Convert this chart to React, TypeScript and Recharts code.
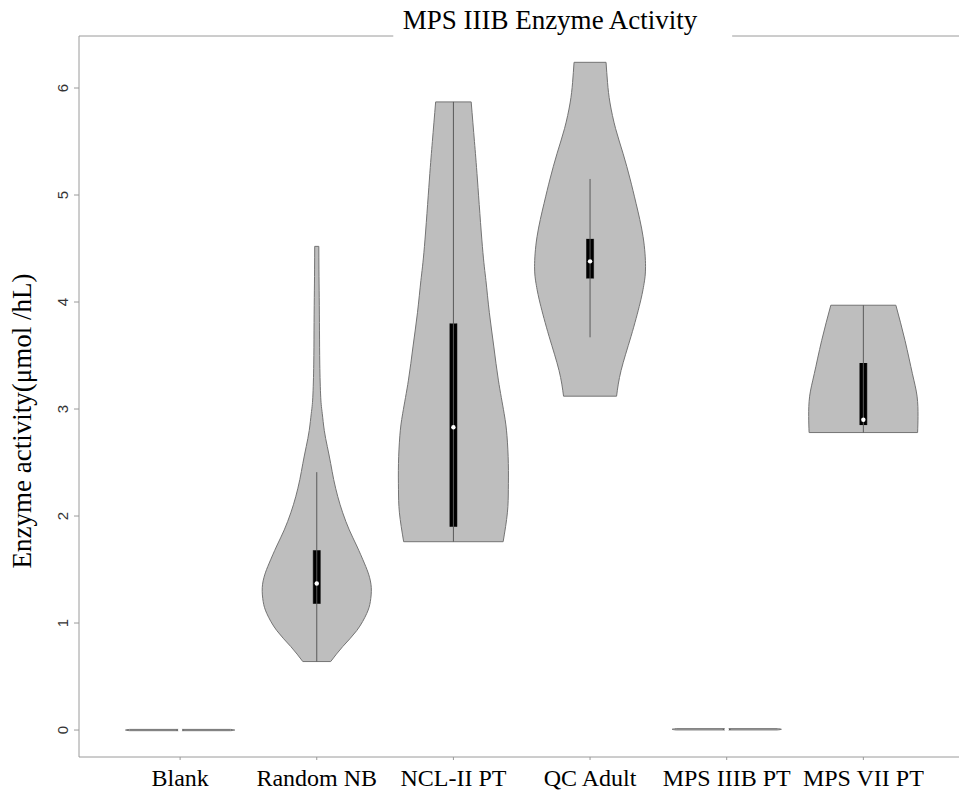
import React from 'react';
import { ComposedChart, Area, Line, XAxis, YAxis, ReferenceLine } from 'recharts';

const CATEGORIES = ['Blank', 'Random NB', 'NCL-II PT', 'QC Adult', 'MPS IIIB PT', 'MPS VII PT'];
const Y_TICKS = [0, 1, 2, 3, 4, 5, 6];

// violin outlines: [activity, half width in category units]
const blankDensity = [[-0.006, 0.37], [0, 0.4], [0.006, 0.37]];
const randomNbDensity = [
  [0.64, 0.102], [0.78, 0.19], [0.93, 0.293], [1.09, 0.366], [1.2, 0.392], [1.33, 0.399],
  [1.45, 0.381], [1.56, 0.348], [1.72, 0.293], [1.87, 0.238], [2.03, 0.19], [2.18, 0.154],
  [2.34, 0.124], [2.49, 0.102], [2.65, 0.077], [2.8, 0.055], [2.96, 0.04], [3.11, 0.029],
  [3.42, 0.022], [3.73, 0.02], [4.04, 0.018], [4.3, 0.016], [4.52, 0.015],
];
const nclDensity = [
  [1.76, 0.364], [2.03, 0.395], [2.25, 0.402], [2.49, 0.402], [2.75, 0.392], [2.96, 0.371],
  [3.27, 0.329], [3.58, 0.296], [3.9, 0.263], [4.2, 0.238], [4.52, 0.212], [5.14, 0.176],
  [5.5, 0.154], [5.87, 0.13],
];
const qcDensity = [
  [3.12, 0.194], [3.36, 0.227], [3.68, 0.3], [3.99, 0.366], [4.17, 0.395], [4.33, 0.406],
  [4.61, 0.388], [4.92, 0.337], [5.15, 0.293], [5.39, 0.241], [5.62, 0.187], [5.86, 0.146],
  [6.05, 0.128], [6.24, 0.117],
];
const mps3bDensity = [[0.001, 0.37], [0.007, 0.4], [0.013, 0.37]];
const mps7Density = [
  [2.78, 0.397], [2.93, 0.4], [3.12, 0.393], [3.33, 0.359], [3.64, 0.305], [3.97, 0.238],
];
const DENSITIES = [blankDensity, randomNbDensity, nclDensity, qcDensity, mps3bDensity, mps7Density];

// box plot stats per group
const WHISKER_LO = [0, 0.64, 1.76, 3.67, 0.007, 2.78];
const WHISKER_HI = [0, 2.41, 5.87, 5.15, 0.007, 3.97];
const Q1 = [-0.004, 1.18, 1.9, 4.22, 0.003, 2.85];
const Q3 = [0.004, 1.68, 3.8, 4.59, 0.011, 3.43];
const MEDIAN = [0, 1.37, 2.83, 4.38, 0.007, 2.9];

const BOX_HALF = 0.026;
const X_DOMAIN = [0.26, 6.7];
const Y_DOMAIN = [-0.252, 6.486];
const TITLE_GAP = [2.56, 5.04];

const SERIF = '"Liberation Serif", "Times New Roman", serif';
const SANS = '"Liberation Sans", Arial, sans-serif';
const AXIS = '#9a9a9a';

const violinData = DENSITIES.map((d, i) =>
  d.map(([v, hw]) => ({ y: v, range: [i + 1 - hw, i + 1 + hw] }))
);
const capData = DENSITIES.flatMap((d, i) =>
  [d[0], d[d.length - 1]].map(([v, hw]) => [
    { y: v, x: i + 1 - hw },
    { y: v, x: i + 1 + hw },
  ])
);
const whiskerData = CATEGORIES.map((_, i) => [
  { y: WHISKER_LO[i], x: i + 1 },
  { y: WHISKER_HI[i], x: i + 1 },
]);
const boxData = CATEGORIES.map((_, i) => [
  { y: Q1[i], range: [i + 1 - BOX_HALF, i + 1 + BOX_HALF] },
  { y: Q3[i], range: [i + 1 - BOX_HALF, i + 1 + BOX_HALF] },
]);
const medianData = MEDIAN.map((m, i) => ({ y: m, x: i + 1 }));

const XTick = ({ x, y, payload }: any) => (
  <text x={x} y={y + 24} textAnchor="middle" fontFamily={SERIF} fontSize={24} fill="#000">
    {CATEGORIES[payload.value - 1]}
  </text>
);

const YTick = ({ x, y, payload }: any) => (
  <text
    x={x}
    y={y}
    transform={`rotate(-90 ${x} ${y})`}
    textAnchor="middle"
    fontFamily={SANS}
    fontSize={15}
    fill="#333"
  >
    {payload.value}
  </text>
);

const YLabel = () => (
  <text
    x={31}
    y={421}
    transform="rotate(-90 31 421)"
    textAnchor="middle"
    fontFamily={SERIF}
    fontSize={27}
    fill="#000"
  >
    Enzyme activity(μmol /hL)
  </text>
);

export default function App() {
  return (
    <div style={{ position: 'absolute', left: 0, top: 0, width: 959, height: 798, background: '#fff' }}>
      <ComposedChart
        layout="vertical"
        width={959}
        height={798}
        margin={{ top: 36, right: 0, bottom: 0, left: 0 }}
      >
        <XAxis
          type="number"
          domain={X_DOMAIN}
          ticks={[1, 2, 3, 4, 5, 6]}
          interval={0}
          allowDataOverflow
          height={41}
          tickSize={3}
          tickMargin={2}
          stroke={AXIS}
          tick={XTick}
        />
        <YAxis
          type="number"
          dataKey="y"
          domain={Y_DOMAIN}
          reversed
          allowDataOverflow
          ticks={Y_TICKS}
          interval={0}
          width={79}
          tickSize={5}
          tickMargin={6}
          stroke={AXIS}
          tick={YTick}
          label={{ content: YLabel }}
        />
        <ReferenceLine
          segment={[{ x: X_DOMAIN[0], y: Y_DOMAIN[1] }, { x: TITLE_GAP[0], y: Y_DOMAIN[1] }]}
          stroke={AXIS}
        />
        <ReferenceLine
          segment={[{ x: TITLE_GAP[1], y: Y_DOMAIN[1] }, { x: X_DOMAIN[1], y: Y_DOMAIN[1] }]}
          stroke={AXIS}
        />

        {violinData.map((d, i) => (
          <Area
            key={`violin-${i}`}
            data={d}
            dataKey="range"
            type="natural"
            fill="#bebebe"
            fillOpacity={1}
            stroke="#747474"
            strokeWidth={1}
            dot={false}
            activeDot={false}
            isAnimationActive={false}
          />
        ))}
        {capData.map((d, i) => (
          <Line
            key={`cap-${i}`}
            data={d}
            dataKey="x"
            stroke="#747474"
            strokeWidth={1}
            dot={false}
            activeDot={false}
            isAnimationActive={false}
          />
        ))}
        {whiskerData.map((d, i) => (
          <Line
            key={`whisker-${i}`}
            data={d}
            dataKey="x"
            stroke="#5a5a5a"
            strokeWidth={1}
            dot={false}
            activeDot={false}
            isAnimationActive={false}
          />
        ))}
        {boxData.map((d, i) => (
          <Area
            key={`box-${i}`}
            data={d}
            dataKey="range"
            type="linear"
            fill="#000"
            fillOpacity={1}
            stroke="#000"
            strokeWidth={0.5}
            dot={false}
            activeDot={false}
            isAnimationActive={false}
          />
        ))}
        <Line
          data={medianData}
          dataKey="x"
          stroke="none"
          dot={{ r: 2.2, fill: '#fff', stroke: 'none' }}
          activeDot={false}
          isAnimationActive={false}
        />
      </ComposedChart>
      <svg
        width={959}
        height={798}
        style={{ position: 'absolute', left: 0, top: 0, pointerEvents: 'none' }}
      >
        <text x={550} y={29} textAnchor="middle" fontFamily={SERIF} fontSize={27} fill="#000">
          MPS IIIB Enzyme Activity
        </text>
      </svg>
    </div>
  );
}
